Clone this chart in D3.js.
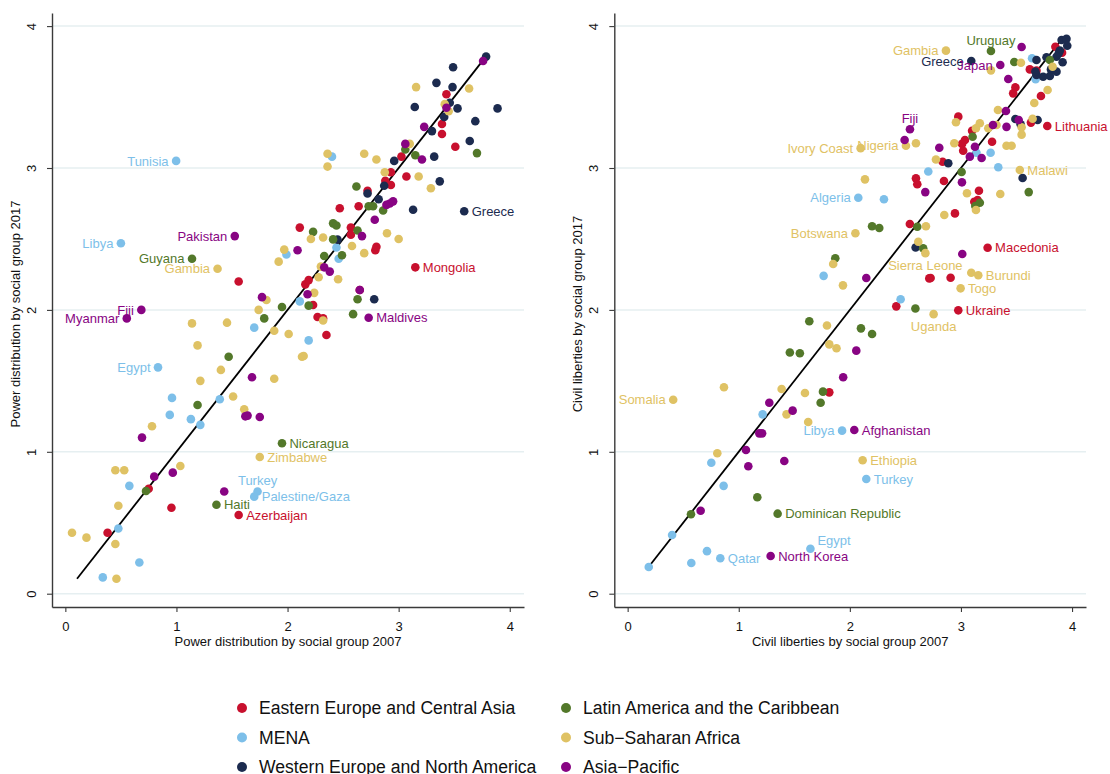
<!DOCTYPE html>
<html><head><meta charset="utf-8">
<script src="https://cdn.jsdelivr.net/npm/d3@7"></script>
<style>
body{margin:0;background:#fff}
text{font-family:"Liberation Sans",Arial,Helvetica,sans-serif}
</style>
</head><body>
<svg id="chart" width="1110" height="774"></svg>
<script>
// ---------- categories ----------
const regionNames = ["Eastern Europe and Central Asia","MENA","Western Europe and North America",
  "Latin America and the Caribbean","Sub\u2212Saharan Africa","Asia\u2212Pacific"];
const regionColors = ["#c8102e","#7dbfe9","#1c2b4f","#53782a","#dfc264","#880483"];
const tickValues = [0,1,2,3,4];
const tickLabels = ["0","1","2","3","4"];

// ---------- Panel 1: Power distribution (x = 2007, y = 2017) ----------
const powerEECA = [[1.56,2.20],[0.75,0.74],[0.955,0.606],[1.56,0.555,"Azerbaijan"],[0.38,0.43],
  [2.27,1.95],[2.32,1.94],[2.35,1.823],[2.23,2.035],[2.16,2.18],[2.19,2.21],[2.65,2.14],
  [2.11,2.58],[2.57,2.58],[2.57,2.53],[2.79,2.42],[2.80,2.445],[3.15,2.30,"Mongolia"],
  [2.47,2.716],[2.64,2.73],[2.72,2.84],[2.88,2.91],[2.93,2.88],[2.93,2.97],[3.025,3.08],
  [3.07,2.94],[3.51,3.15],[3.39,3.24],[3.39,3.31],[3.43,3.52]];
const powerMENA = [[0.997,3.05,"Tunisia"],[0.50,2.47,"Libya"],[0.834,1.595,"Egypt"],[1.70,1.875],
  [0.96,1.38],[1.39,1.37],[0.94,1.26],[1.13,1.23],[1.215,1.19],[0.576,0.76],[1.73,0.72,"Turkey"],
  [1.70,0.684,"Palestine/Gaza"],[0.477,0.46],[0.666,0.22],[0.337,0.115],[2.19,1.785],[2.11,2.06],
  [2.40,3.08],[2.44,2.44],[1.99,2.39],[2.46,2.36]];
const powerWENA = [[3.787,3.785],[3.49,3.71],[3.34,3.60],[3.485,3.57],[3.46,3.46],[3.145,3.43],
  [3.53,3.42],[3.89,3.42],[3.41,3.36],[3.69,3.33],[3.30,3.26],[3.64,3.19],[3.32,3.08],[2.96,3.05],
  [3.37,2.906],[2.72,2.82],[2.87,2.875],[2.82,2.78],[3.13,2.706],[3.59,2.695,"Greece"],[2.45,2.495],
  [2.78,2.075]];
const powerLAC = [[1.14,2.36,"Guyana"],[1.79,1.94],[1.95,2.02],[1.47,1.67],[1.19,1.33],
  [1.95,1.06,"Nicaragua"],[0.726,0.724],[1.36,0.627,"Haiti"],[2.19,2.03],[2.59,1.97],[2.63,2.075],
  [3.705,3.105],[3.06,3.13],[3.15,3.09],[2.62,2.87],[2.73,2.73],[2.77,2.73],[2.86,2.70],[2.41,2.61],
  [2.44,2.595],[2.23,2.55],[2.63,2.56],[2.41,2.497],[2.33,2.38],[2.49,2.385]];
const powerSSA = [[1.37,2.29,"Gambia"],[1.81,2.07],[1.74,2.00],[1.92,2.34],[1.97,2.425],[1.14,1.905],
  [1.455,1.91],[1.19,1.75],[1.40,1.577],[1.215,1.50],[1.88,1.515],[1.51,1.39],[1.61,1.30],[0.78,1.18],
  [1.75,0.963,"Zimbabwe"],[0.45,0.87],[0.53,0.87],[1.035,0.90],[0.477,0.62],[0.06,0.43],[0.19,0.395],
  [0.45,0.35],[0.46,0.105],[2.32,1.925],[2.13,1.67],[2.145,1.675],[2.01,1.83],[1.88,1.853],
  [3.157,3.57],[3.634,3.56],[3.415,3.45],[3.45,3.40],[3.10,3.17],[2.36,3.10],[2.36,3.01],[2.69,3.10],
  [2.80,3.06],[2.875,2.97],[3.18,2.94],[3.29,2.857],[2.21,2.50],[2.32,2.51],[2.895,2.54],[3.00,2.50],
  [2.58,2.45],[2.69,2.40],[2.30,2.305],[2.28,2.23],[2.455,2.216],[2.24,2.12]];
const powerAP = [[1.525,2.52,"Pakistan"],[1.77,2.09],[0.684,2.00,"Fiji"],[0.553,1.94,"Myanmar"],
  [1.68,1.525],[1.62,1.25],[1.64,1.255],[1.75,1.245],[0.69,1.10],[0.80,0.825],[0.967,0.853],[1.43,0.72],
  [2.73,1.945,"Maldives"],[3.76,3.754],[3.43,3.425],[3.23,3.29],[3.06,3.17],[3.21,3.06],[2.89,2.74],
  [2.92,2.75],[2.95,2.765],[2.785,2.635],[2.67,2.52],[2.09,2.42],[2.33,2.30],[2.38,2.27],[2.18,2.11],
  [2.65,2.14]];
const powerFitLine = [0.105, 3.785];

// ---------- Panel 2: Civil liberties (x = 2007, y = 2017) ----------
const civilEECA = [[1.815,1.419],[2.976,1.997,"Ukraine"],[2.418,2.025],[2.595,2.927],[2.607,2.885],
  [2.54,2.605],[2.715,2.222],[3.85,3.855],[3.91,3.813],[3.62,3.695],[3.68,3.686],[3.49,3.568],
  [3.47,3.526],[3.72,3.507],[2.976,3.362],[3.63,3.32],[3.777,3.296,"Lithuania"],[3.10,3.263],
  [3.036,3.197],[3.01,3.17],[3.02,3.122],[3.28,3.185],[2.835,3.044],[2.847,2.908],[3.162,2.84],
  [3.12,2.762],[3.15,2.774],[2.946,2.68],[3.24,2.438,"Macedonia"],[2.727,2.225],[2.907,2.227]];
const civilMENA = [[0.19,0.188],[0.834,0.25,"Qatar"],[0.573,0.216],[0.714,0.30],[0.40,0.414],
  [1.645,0.317,"Egypt"],[0.864,0.76],[0.753,0.923],[1.215,1.264],[1.93,1.149,"Libya"],
  [2.148,0.808,"Turkey"],[2.457,2.075],[2.706,2.975],[2.076,2.79,"Algeria"],[2.307,2.78],[1.764,2.24],
  [3.64,3.773],[3.672,3.625],[3.14,3.107],[3.267,3.107],[3.336,3.005]];
const civilWENA = [[3.093,3.754,"Greece"],[3.68,3.761],[3.77,3.78],[3.906,3.902],[3.95,3.91],
  [3.957,3.862],[3.89,3.827],[3.88,3.808],[3.86,3.784],[3.915,3.745],[3.86,3.679],[3.80,3.648],
  [3.74,3.643],[3.68,3.655],[3.67,3.68],[3.81,3.695],[3.49,3.345],[3.537,3.308],[3.69,3.338],
  [2.886,3.033],[3.555,2.93],[2.592,2.44]];
const civilLAC = [[1.35,0.564,"Dominican Republic"],[0.57,0.56],[1.167,0.68],[1.758,1.424],[1.737,1.346],
  [1.46,1.70],[1.55,1.694],[1.635,1.92],[2.10,1.87],[2.20,1.83],[2.59,2.01],[2.20,2.59],[2.265,2.577],
  [2.607,2.586],[2.66,2.434],[1.869,2.364],[3.27,3.824,"Uruguay"],[3.48,3.747],[3.80,3.761],
  [3.105,3.22],[3.006,2.972],[3.61,2.83],[3.17,2.755],[3.129,2.732]];
const civilSSA = [[0.41,1.367,"Somalia"],[0.807,0.99],[0.867,1.455],[1.386,1.443],[1.596,1.414],
  [1.43,1.264],[1.625,1.21],[2.115,0.94,"Ethiopia"],[1.794,1.89],[1.815,1.757],[1.88,1.73],
  [2.754,1.97,"Uganda"],[2.097,3.14,"Ivory Coast"],[2.505,3.157,"Nigeria"],[2.595,3.174],[2.136,2.92],
  [2.05,2.54,"Botswana"],[2.685,2.59],[2.616,2.48],[2.68,2.40,"Sierra Leone"],[1.85,2.323],[1.938,2.173],
  [3.156,2.244,"Burundi"],[3.093,2.262],[2.997,2.152,"Togo"],[2.865,3.827,"Gambia"],[3.27,3.688],
  [3.54,3.742],[3.825,3.714],[3.78,3.55],[3.66,3.458],[3.333,3.409],[2.955,3.322],[3.645,3.347],
  [3.17,3.315],[3.135,3.28],[3.246,3.28],[3.546,3.287],[3.546,3.235],[2.94,3.174],[3.41,3.157],
  [3.456,3.157],[2.775,3.06],[3.53,2.986,"Malawi"],[3.054,2.822],[3.354,2.817],[3.135,2.704],
  [2.85,2.669],[3.32,3.303]];
const civilAP = [[1.287,0.266,"North Korea"],[0.657,0.585],[1.065,1.013],[1.086,0.898],[1.41,0.935],
  [1.185,1.13],[1.21,1.13],[1.275,1.346],[1.485,1.29],[2.04,1.154,"Afghanistan"],[2.058,1.713],
  [1.94,1.525],[2.148,2.225],[2.679,2.83],[2.541,3.273,"Fiji"],[2.493,3.197],[3.546,3.853],
  [3.354,3.726,"Japan"],[3.426,3.627],[3.405,3.402],[3.52,3.338],[3.288,3.303],[3.41,3.29],[3.126,3.15],
  [3.08,3.08],[3.186,3.07],[2.805,3.143],[3.009,2.899],[3.012,2.394]];
const civilFitLine = [0.19, 3.9];

// label placement (clock position, Stata-style)
const powerLabelPos = {"Tunisia":9,"Libya":9,"Egypt":9,"Pakistan":9,"Guyana":9,"Gambia":9,"Fiji":9,
  "Myanmar":9,"Turkey":12,"Palestine/Gaza":3,"Haiti":3,"Azerbaijan":3,"Nicaragua":3,"Zimbabwe":3,
  "Greece":3,"Mongolia":3,"Maldives":3};
const civilLabelPos = {"Uruguay":12,"Gambia":9,"Greece":9,"Japan":9,"Fiji":12,"Ivory Coast":9,
  "Nigeria":9,"Algeria":9,"Botswana":9,"Sierra Leone":6,"Uganda":6,"Somalia":9,"Libya":9,"Egypt":1,
  "Qatar":3,"North Korea":3,"Dominican Republic":3,"Turkey":3,"Ethiopia":3,"Afghanistan":3,
  "Ukraine":3,"Togo":3,"Burundi":3,"Macedonia":3,"Malawi":3,"Lithuania":3};

const panels = [
  {series:[powerEECA,powerMENA,powerWENA,powerLAC,powerSSA,powerAP], fit:powerFitLine, labelPos:powerLabelPos,
   xTitle:"Power distribution by social group  2007", yTitle:"Power distribution by social group 2017",
   left:52, right:524},
  {series:[civilEECA,civilMENA,civilWENA,civilLAC,civilSSA,civilAP], fit:civilFitLine, labelPos:civilLabelPos,
   xTitle:"Civil liberties by social group 2007", yTitle:"Civil liberties by social group 2017",
   left:614.3, right:1086}
];

const svg = d3.select("#chart");
svg.append("rect").attr("width",1110).attr("height",774).attr("fill","#fff");
const plotTop = 13, plotBottom = 607;
const unitX = 111.1, unitY = 141.9, zeroOffX = 13.35, zeroOffY = 13.3;

panels.forEach(p => {
  const x = d3.scaleLinear()
    .domain([-zeroOffX/unitX, -zeroOffX/unitX + (p.right-p.left)/unitX])
    .range([p.left, p.right]);
  const y = d3.scaleLinear()
    .domain([-zeroOffY/unitY, -zeroOffY/unitY + (plotBottom-plotTop)/unitY])
    .range([plotBottom, plotTop]);
  const g = svg.append("g");

  // grid
  g.append("g").selectAll("line").data(tickValues).join("line")
    .attr("x1", p.left).attr("x2", p.right)
    .attr("y1", d=>y(d)).attr("y2", d=>y(d))
    .attr("stroke","#e6eff1").attr("stroke-width",1.5);

  // axes
  const yAx = g.append("g").attr("transform",`translate(${p.left},0)`)
    .call(d3.axisLeft(y).tickValues(tickValues).tickFormat((d,i)=>tickLabels[i]).tickSize(5).tickSizeOuter(0));
  const xAx = g.append("g").attr("transform",`translate(0,${plotBottom})`)
    .call(d3.axisBottom(x).tickValues(tickValues).tickFormat((d,i)=>tickLabels[i]).tickSize(5).tickSizeOuter(0));
  [yAx,xAx].forEach(a=>{
    a.select(".domain").attr("stroke","#3a3a3a").attr("stroke-width",1.4);
    a.selectAll(".tick line").attr("stroke","#3a3a3a").attr("stroke-width",1.1);
    a.selectAll("text").attr("fill","#111").style("font-size","13px")
      .style("font-family","'Liberation Sans',Arial,Helvetica,sans-serif");
  });
  yAx.selectAll(".tick text").attr("x",0).attr("y",-16).attr("dy",null)
    .attr("text-anchor","middle").attr("transform","rotate(-90)");
  xAx.selectAll(".tick text").attr("y",15);

  // titles
  g.append("text").attr("x",(p.left+p.right)/2).attr("y",646)
    .attr("text-anchor","middle").attr("font-size",13).attr("fill","#111").text(p.xTitle);
  g.append("text").attr("transform",`translate(${p.left-32},${(plotTop+plotBottom)/2+4}) rotate(-90)`)
    .attr("text-anchor","middle").attr("font-size",13).attr("fill","#111").text(p.yTitle);

  // fit line
  g.append("line")
    .attr("x1",x(p.fit[0])).attr("y1",y(p.fit[0]))
    .attr("x2",x(p.fit[1])).attr("y2",y(p.fit[1]))
    .attr("stroke","#000").attr("stroke-width",1.8);

  // dots
  p.series.forEach((s,i)=>{
    g.append("g").selectAll("circle").data(s).join("circle")
      .attr("cx",d=>x(d[0])).attr("cy",d=>y(d[1])).attr("r",4.3)
      .attr("fill",regionColors[i]);
  });

  // labels
  p.series.forEach((s,i)=>{
    s.filter(d=>d[2]).forEach(d=>{
      const pos = p.labelPos[d[2]] || 3;
      const cx = x(d[0]), cy = y(d[1]);
      let tx=cx, ty=cy+4.6, anchor="start";
      if(pos===3){tx=cx+7.5;}
      else if(pos===9){tx=cx-7.5;anchor="end";}
      else if(pos===12){ty=cy-6.5;anchor="middle";}
      else if(pos===6){ty=cy+16.5;anchor="middle";}
      else if(pos===1){tx=cx+7;ty=cy-3.5;}
      g.append("text").attr("x",tx).attr("y",ty).attr("text-anchor",anchor)
        .attr("font-size",13).attr("fill",regionColors[i]).text(d[2]);
    });
  });
});

// legend
const legendOrder = [0,3,1,4,2,5];
const lg = svg.append("g");
legendOrder.forEach((ri,k)=>{
  const col = k%2, row = Math.floor(k/2);
  const lx = col===0 ? 242 : 566, ly = 708 + row*29.5;
  lg.append("circle").attr("cx",lx).attr("cy",ly).attr("r",5).attr("fill",regionColors[ri]);
  lg.append("text").attr("x",lx+17).attr("y",ly+6.2).attr("font-size",17.6).attr("fill","#111")
    .text(regionNames[ri]);
});
</script>
</body></html>
